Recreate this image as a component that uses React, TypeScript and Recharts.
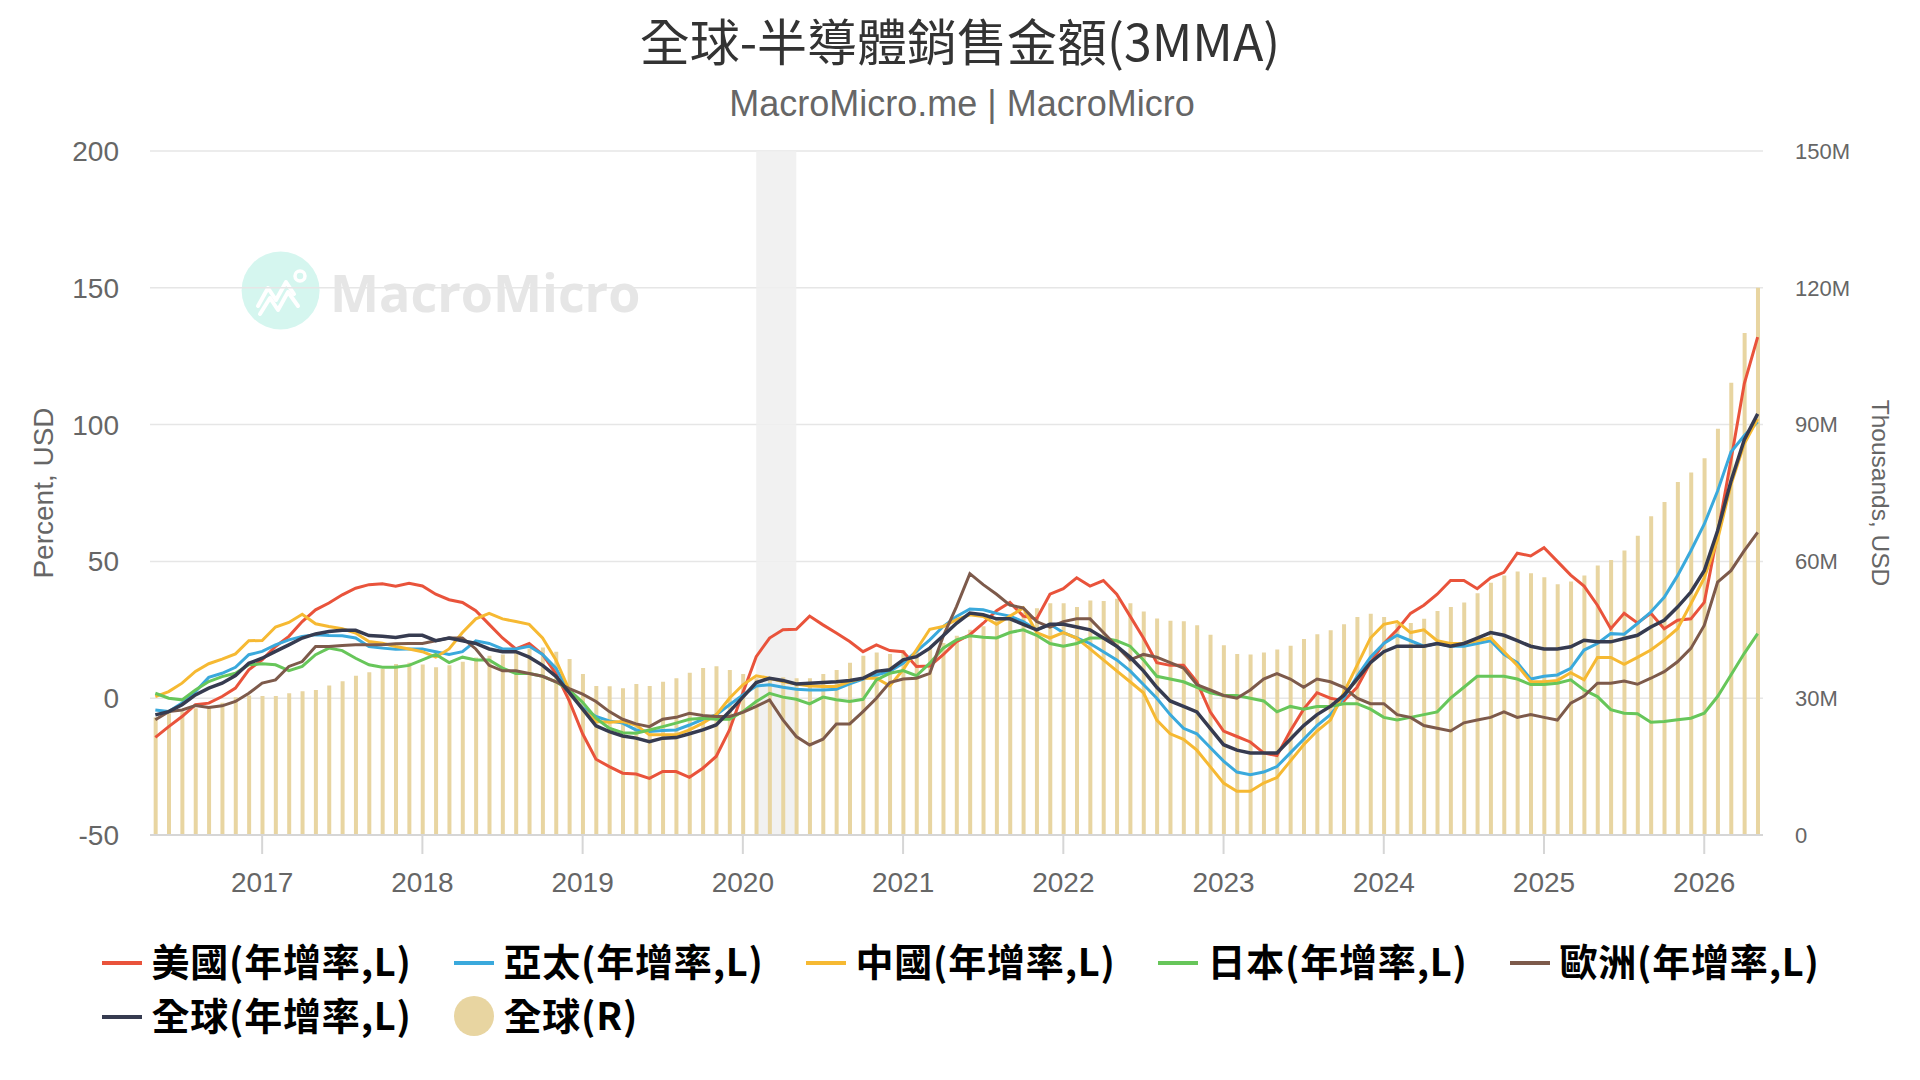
import React from 'react';
import {
  ComposedChart,
  Line,
  Bar,
  XAxis,
  YAxis,
  CartesianGrid,
  ReferenceArea,
  Label,
} from 'recharts';

// Monthly points, 2016-05 .. 2026-05 (121 months)
const START_YEAR = 2016;
const START_MONTH = 5;

// 美國(年增率,L)
const usYoY = [
  -14.3, -10.4, -6.7, -2.4, -1.8, 0.6, 3.7, 10.4,
  14, 18.9, 22.6, 28, 32.3, 34.8, 37.8, 40.2, 41.5, 41.8, 40.9, 42,
  41, 38, 36, 35, 32, 27, 22, 18, 20, 16, 9, -1,
  -13, -22.3, -25, -27.4, -27.7, -29.3, -26.8, -26.8, -28.9, -25.6, -21.3, -11.6,
  2, 15.2, 22, 25, 25.2, 30, 26.8, 23.8, 20.7, 17, 19.5, 17.4,
  17, 11.6, 11.8, 15.9, 20.7, 23.2, 27.4, 32, 35, 30, 29, 38,
  40, 44, 41, 43, 38, 30, 22, 13, 12, 12, 6, -5,
  -12, -14, -16, -20, -21, -12, -4, 2, 0, -1, 4, 13,
  20, 25, 31, 34, 38, 43, 43, 40, 44, 46, 53, 52,
  55, 50, 45, 41, 34, 25.4, 31, 27.5, 31, 25.4, 28.5, 29,
  35, 60, 87, 115, 132,
];

// 亞太(年增率,L)
const asiaYoY = [
  -4.3, -4.9, -1.8, 2.4, 7.6, 9.1, 11.3, 15.9,
  17.1, 19.5, 21.3, 22.6, 23.2, 22.9, 22.8, 22, 18.9, 18.3, 17.9, 18,
  18, 17, 16, 17, 21, 20, 18, 18, 19, 16, 11, 2,
  -3.5, -6.7, -8.3, -9.1, -11.6, -12.2, -11.8, -11.6, -9.8, -7.7, -6.1, -2.4,
  1.2, 4.5, 4.9, 4.0, 3.3, 3.0, 3.0, 3.3, 5.2, 7, 8.5, 9.8,
  12.8, 17.1, 21.3, 26.2, 29.9, 32.6, 32.3, 31, 30, 28, 25, 27,
  24, 22, 20, 17, 14, 10, 5, 0, -6, -11, -13, -18,
  -23, -27, -28, -27, -25, -20, -15, -10, -6, 0, 8, 15,
  20, 23, 21, 19, 20, 19, 19, 20, 21, 16, 13, 7,
  8, 8.5, 10.9, 17.6, 20, 23.6, 23.4, 27.3, 31.5, 36.9, 44.8, 53.9,
  63.6, 75.7, 90, 96, 101,
];

// 中國(年增率,L)
const chinaYoY = [
  0.6, 2.4, 5.5, 9.8, 12.6, 14.3, 16.2, 21,
  21.1, 26, 27.7, 30.7, 27.2, 26.2, 25.4, 23.8, 20.7, 20.1, 18.9, 18,
  17, 15, 18, 24, 29, 31, 29, 28, 27, 22, 14, 3,
  -4, -8.5, -8.8, -8.5, -9.8, -13.4, -13.4, -13.4, -11.6, -9.1, -6.1, 0,
  4.9, 8.2, 7.3, 6.1, 5.2, 4.5, 4.3, 4.3, 6.1, 7.3, 7.3, 4.5,
  10.4, 17.7, 25.2, 26.2, 28.7, 30.5, 29.9, 27, 30, 33, 24, 22,
  24, 22, 18, 14, 10, 6, 2, -8, -13, -15, -19, -25,
  -31, -34, -34, -31, -29, -23, -17, -12, -8, 2, 12, 22,
  27, 28, 24, 25, 21, 20, 20, 21, 22, 17, 12, 6,
  6, 6.5, 9.3, 6.7, 14.9, 14.9, 12.4, 14.9, 17.6, 21.2, 25.4, 34.5,
  44, 58, 78, 93, 102,
];

// 日本(年增率,L)
const japanYoY = [
  1.8, 0, -0.6, 3, 6.1, 7.9, 9.1, 12.2,
  12.6, 12.2, 10.1, 11.6, 15.9, 18.3, 17.4, 14.6, 12.2, 11.3, 11.3, 12,
  14, 16, 13, 15, 14, 14, 11, 9, 9, 8, 6, 3,
  -1.5, -7.3, -11, -12.6, -12.8, -11.6, -10.4, -9.1, -7.7, -7.3, -7.7, -7.7,
  -4.9, -1.2, 1.8, 0.4, -0.4, -2.1, 0.4, -0.6, -1.2, -0.4, 6.7, 9.1,
  10.1, 8.2, 12.8, 18.3, 21.3, 22.8, 22.3, 22, 24, 25, 23, 20,
  19, 20, 22, 22, 21, 19, 14, 8, 7, 6, 4, 2,
  1, 1, 0, -1, -5, -3, -4, -3, -3, -2, -2, -4,
  -7, -8, -7, -6, -5, 0, 4, 8, 8, 8, 7, 5,
  5, 5.5, 6.7, 3, 0.6, -4.2, -5.5, -5.7, -8.8, -8.5, -7.9, -7.3,
  -5.5, 0.6, 8.5, 16.4, 23.6,
];

// 歐洲(年增率,L)
const europeYoY = [
  -7.9, -4.9, -4.3, -2.7, -3.4, -2.8, -1.2, 1.8,
  5.5, 6.7, 11.6, 13.4, 18.9, 18.9, 19.3, 19.5, 19.5, 19.5, 19.9, 20,
  20, 21, 22, 22, 18, 12, 10, 10, 9, 8, 6, 3.5,
  1.5, -1.2, -4.9, -7.7, -9.4, -10.4, -7.7, -7, -5.5, -6.3, -6.7, -6.7,
  -5.2, -3.0, -0.6, -7.9, -14, -17.1, -15, -9.4, -9.4, -4.9, 0, 5.7,
  7, 7.3, 9.1, 22.6, 33.5, 45.5, 41.5, 38, 34, 33, 28, 26,
  28, 29, 29, 24, 19, 14, 16, 15, 13, 11, 5, 3,
  1, 0, 3, 7, 9, 7, 4, 7, 6, 4, 0, -2,
  -2, -6, -7, -10, -11, -12, -9, -8, -7, -5, -7, -6,
  -7, -8, -1.8, 0.8, 5.5, 5.5, 6.3, 5.1, 7.3, 9.7, 13.3, 18.2,
  26.6, 42.4, 46.6, 53.9, 60.6,
];

// 全球(年增率,L)
const globalYoY = [
  -6.1, -4.9, -2.4, 1.2, 3.7, 5.5, 8.3, 12.8,
  14.6, 17.1, 19.5, 22, 23.5, 24.4, 24.8, 24.8, 22.9, 22.6, 22.2, 23,
  23, 21, 22, 21, 20, 18, 17, 17, 15, 12, 8, 2,
  -4, -10.1, -12.2, -13.8, -14.6, -15.9, -14.6, -14.4, -13, -11.6, -9.8, -4.9,
  0.4, 5.7, 7.3, 6.5, 5.2, 5.5, 5.7, 6, 6.5, 7.3, 9.8, 10.4,
  14, 15.2, 18.3, 22.8, 27.4, 31.1, 30.5, 29, 29, 27, 25, 27,
  27, 26, 25, 22, 19, 15, 10, 4, -1, -3, -5, -11,
  -17, -19, -20, -20, -20, -15, -10, -6, -3, 1, 7, 13,
  17, 19, 19, 19, 20, 19, 20, 22, 24, 23, 21, 19,
  18, 18, 18.8, 21.2, 20.6, 20.6, 21.8, 23, 26, 28.5, 33.3, 38.8,
  46.6, 61.2, 79.3, 94.5, 103.9,
];

// 全球(R) — sales, millions of thousands USD
const globalSales = [
  25.8, 26.7, 27.1, 27.8, 27.8, 29.0, 30.2, 30.6,
  30.5, 30.5, 31.1, 31.5, 31.8, 32.8, 33.7, 34.9, 35.7, 36.4, 37.5, 37.8,
  37.4, 36.8, 37.2, 38.0, 38.9, 39.3, 39.6, 40.2, 40.9, 41.1, 40.2, 38.6,
  35.3, 32.7, 32.6, 32.2, 33.1, 32.7, 33.6, 34.4, 35.6, 36.6, 37.0, 36.2,
  35.3, 34.4, 34.5, 34.6, 34.4, 34.4, 35.3, 36.2, 37.8, 39.3, 40.0, 39.7,
  40.5, 40.2, 41.0, 42.1, 43.7, 45.0, 45.8, 47.3, 48.3, 48.8, 49.7, 50.8,
  50.8, 50.0, 51.4, 51.3, 51.8, 50.8, 49.0, 47.5, 47.0, 46.9, 46.0, 43.9,
  41.6, 39.7, 39.6, 40.0, 40.7, 41.5, 43.0, 44.0, 44.9, 46.2, 47.8, 48.5,
  47.8, 46.4, 46.5, 47.4, 49.1, 50.0, 51.0, 53.0, 55.3, 56.9, 57.8, 57.4,
  56.5, 55.0, 55.6, 56.9, 59.1, 60.3, 62.4, 65.6, 69.9, 73.0, 77.4, 79.5,
  82.6, 89.1, 99.2, 110.1, 120,
];

const yearTickIdx = [8, 20, 32, 44, 56, 68, 80, 92, 104, 116];
const yearTickLabels = ['2017', '2018', '2019', '2020', '2021', '2022', '2023', '2024', '2025', '2026'];
const leftTicks = [-50, 0, 50, 100, 150, 200];
const rightTicks = [0, 30, 60, 90, 120, 150];
const recessionStart = 45; // 2020-02
const recessionEnd = 48; // 2020-05

const COLORS = {
  us: '#e9533b',
  asia: '#3aa9dc',
  china: '#f6b932',
  japan: '#67c65a',
  europe: '#7d5a4b',
  global: '#363b50',
  sales: '#e8d5a1',
};

const data = usYoY.map((v, i) => {
  const m = START_MONTH - 1 + i;
  const y = START_YEAR + Math.floor(m / 12);
  const mm = (m % 12) + 1;
  return {
    idx: i,
    month: `${y}-${mm < 10 ? '0' + mm : mm}`,
    us: v,
    asia: asiaYoY[i],
    china: chinaYoY[i],
    japan: japanYoY[i],
    europe: europeYoY[i],
    global: globalYoY[i],
    sales: globalSales[i],
  };
});

const legendItems = [
  { label: '美國(年增率,L)', color: COLORS.us, kind: 'line' },
  { label: '亞太(年增率,L)', color: COLORS.asia, kind: 'line' },
  { label: '中國(年增率,L)', color: COLORS.china, kind: 'line' },
  { label: '日本(年增率,L)', color: COLORS.japan, kind: 'line' },
  { label: '歐洲(年增率,L)', color: COLORS.europe, kind: 'line' },
  { label: '全球(年增率,L)', color: COLORS.global, kind: 'line' },
  { label: '全球(R)', color: COLORS.sales, kind: 'dot' },
];

const LATIN = '"Liberation Sans", Arial, Helvetica, sans-serif';
const CJK = '"Noto Sans CJK TC", "Noto Sans CJK SC", sans-serif';

const axisTick = { fontSize: 28, fill: '#666666', fontFamily: LATIN };
const rightTick = { fontSize: 22, fill: '#666666', fontFamily: LATIN };

const leftTitle = (props: any) => {
  const vb = props.viewBox || {};
  const cy = (vb.y || 0) + (vb.height || 0) / 2;
  const cx = 43;
  return (
    <text
      x={cx}
      y={cy}
      transform={`rotate(-90 ${cx} ${cy})`}
      textAnchor="middle"
      dominantBaseline="central"
      fill="#666666"
      fontSize={28}
      fontFamily={LATIN}
    >
      Percent, USD
    </text>
  );
};

const rightTitle = (props: any) => {
  const vb = props.viewBox || {};
  const cy = (vb.y || 0) + (vb.height || 0) / 2;
  const cx = (vb.x || 0) + 117;
  return (
    <text
      x={cx}
      y={cy}
      transform={`rotate(90 ${cx} ${cy})`}
      textAnchor="middle"
      dominantBaseline="central"
      fill="#666666"
      fontSize={24.5}
      fontFamily={LATIN}
    >
      Thousands, USD
    </text>
  );
};

function Watermark() {
  return (
    <svg
      width={700}
      height={120}
      style={{ position: 'absolute', left: 220, top: 230 }}
    >
      <circle cx={60.6} cy={60.5} r={39} fill="#d5f6ef" />
      <polyline
        points="38,76 48,58 56,70 66,52 74,64"
        fill="none"
        stroke="#ffffff"
        strokeWidth={4}
        strokeLinejoin="round"
        strokeLinecap="round"
      />
      <polyline
        points="40,84 50,68 58,80 68,62 78,76"
        fill="none"
        stroke="#ffffff"
        strokeWidth={4}
        strokeLinejoin="round"
        strokeLinecap="round"
      />
      <circle cx={80} cy={46} r={5} fill="none" stroke="#ffffff" strokeWidth={3.5} />
      <text
        x={110}
        y={61.5}
        dominantBaseline="central"
        fontSize={52}
        fontWeight="bold"
        fill="#e6e6e6"
        fontFamily={'"Open Sans", "Noto Sans", sans-serif'}
      >
        MacroMicro
      </text>
    </svg>
  );
}

function LegendBox() {
  return (
    <div
      style={{
        position: 'absolute',
        left: 102,
        top: 933,
        width: 352 * 5,
        display: 'flex',
        flexWrap: 'wrap',
      }}
    >
      {legendItems.map((it) => (
        <div
          key={it.label}
          style={{
            width: 352,
            height: 54,
            display: 'flex',
            alignItems: 'center',
          }}
        >
          {it.kind === 'line' ? (
            <div
              style={{
                width: 40,
                height: 4,
                background: it.color,
                marginRight: 9.5,
                marginTop: 5,
              }}
            />
          ) : (
            <div
              style={{
                width: 40,
                height: 40,
                borderRadius: 20,
                background: it.color,
                marginRight: 9.5,
                marginTop: 3,
              }}
            />
          )}
          <span
            style={{
              fontFamily: CJK,
              fontWeight: 700,
              fontSize: 38,
              letterSpacing: 0.8,
              lineHeight: '54px',
              color: '#000000',
              whiteSpace: 'nowrap',
            }}
          >
            {it.label}
          </span>
        </div>
      ))}
    </div>
  );
}

export default function App() {
  return (
    <div
      style={{
        position: 'absolute',
        left: 0,
        top: 0,
        width: 1920,
        height: 1080,
        background: '#ffffff',
        overflow: 'hidden',
      }}
    >
      <div
        style={{
          position: 'absolute',
          left: 0,
          top: 10,
          width: 1920,
          textAlign: 'center',
          fontFamily: CJK,
          fontSize: 50,
          lineHeight: '58px',
          color: '#333333',
          whiteSpace: 'nowrap',
        }}
      >
        全球-半導體銷售金額(3MMA)
      </div>
      <div
        style={{
          position: 'absolute',
          left: 2,
          top: 84,
          width: 1920,
          textAlign: 'center',
          fontFamily: LATIN,
          fontSize: 36,
          lineHeight: '40px',
          color: '#666666',
          whiteSpace: 'nowrap',
        }}
      >
        MacroMicro.me | MacroMicro
      </div>
      <Watermark />
      <div style={{ position: 'absolute', left: 0, top: 0 }}>
        <ComposedChart
          width={1920}
          height={1080}
          data={data}
          margin={{ top: 151, right: 0, bottom: 0, left: 0 }}
        >
          <CartesianGrid
            yAxisId="left"
            vertical={false}
            stroke="#e6e6e6"
            strokeWidth={1.5}
          />
          <XAxis
            dataKey="idx"
            type="number"
            domain={[-0.4, 120.4]}
            ticks={yearTickIdx}
            interval={0}
            tickFormatter={(v: number) => yearTickLabels[yearTickIdx.indexOf(v)] ?? ''}
            height={245}
            tick={axisTick}
            tickSize={19}
            tickMargin={18}
            axisLine={{ stroke: '#d6d6d6', strokeWidth: 2 }}
            tickLine={{ stroke: '#d6d6d6', strokeWidth: 2 }}
            allowDataOverflow
          />
          <YAxis
            yAxisId="left"
            orientation="left"
            domain={[-50, 200]}
            ticks={leftTicks}
            interval={0}
            width={150}
            tick={axisTick}
            tickSize={0}
            tickMargin={31}
            axisLine={false}
            tickLine={false}
            allowDataOverflow
            label={<Label content={leftTitle} />}
          />
          <YAxis
            yAxisId="right"
            orientation="right"
            domain={[0, 150]}
            ticks={rightTicks}
            interval={0}
            width={157}
            tick={rightTick}
            tickFormatter={(v: number) => (v === 0 ? '0' : `${v}M`)}
            tickSize={0}
            tickMargin={32}
            axisLine={false}
            tickLine={false}
            allowDataOverflow
            label={<Label content={rightTitle} />}
          />
          <Bar
            yAxisId="right"
            dataKey="sales"
            name="全球(R)"
            fill={COLORS.sales}
            barSize={4}
            isAnimationActive={false}
          />
          <ReferenceArea
            yAxisId="left"
            x1={recessionStart}
            x2={recessionEnd}
            y1={-50}
            y2={200}
            fill="#efefef"
            fillOpacity={0.88}
            stroke="none"
          />
          <Line yAxisId="left" dataKey="us" name="美國(年增率,L)" stroke={COLORS.us} strokeWidth={3} dot={false} activeDot={false} isAnimationActive={false} />
          <Line yAxisId="left" dataKey="asia" name="亞太(年增率,L)" stroke={COLORS.asia} strokeWidth={3} dot={false} activeDot={false} isAnimationActive={false} />
          <Line yAxisId="left" dataKey="china" name="中國(年增率,L)" stroke={COLORS.china} strokeWidth={3} dot={false} activeDot={false} isAnimationActive={false} />
          <Line yAxisId="left" dataKey="japan" name="日本(年增率,L)" stroke={COLORS.japan} strokeWidth={3} dot={false} activeDot={false} isAnimationActive={false} />
          <Line yAxisId="left" dataKey="europe" name="歐洲(年增率,L)" stroke={COLORS.europe} strokeWidth={3} dot={false} activeDot={false} isAnimationActive={false} />
          <Line yAxisId="left" dataKey="global" name="全球(年增率,L)" stroke={COLORS.global} strokeWidth={3.5} dot={false} activeDot={false} isAnimationActive={false} />
        </ComposedChart>
      </div>
      <LegendBox />
    </div>
  );
}
